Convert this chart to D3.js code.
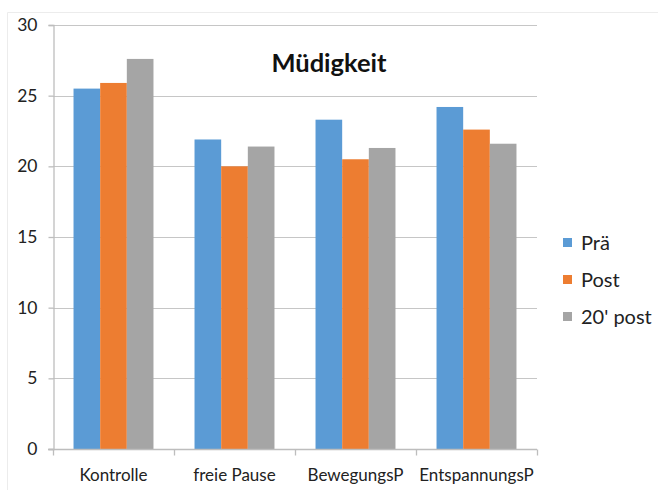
<!DOCTYPE html>
<html>
<head>
<meta charset="utf-8">
<script src="https://cdn.jsdelivr.net/npm/d3@7"></script>
<style>
  html, body { margin: 0; padding: 0; background: #fff; }
  svg { display: block; font-family: Lato, "Open Sans", sans-serif; }
</style>
</head>
<body>
<svg id="chart" width="658" height="490"></svg>
<script>
// Müdigkeit scores per break condition and measurement time
const categories = ["Kontrolle", "freie Pause", "BewegungsP", "EntspannungsP"];
const seriesNames = ["Prä", "Post", "20' post"];
const praValues = [25.5, 21.9, 23.3, 24.2];
const postValues = [25.9, 20.0, 20.5, 22.6];
const post20Values = [27.6, 21.4, 21.3, 21.6];
const yTicks = [0, 5, 10, 15, 20, 25, 30];
const colors = ["#5b9bd5", "#ed7d31", "#a5a5a5"];

const seriesValues = [praValues, postValues, post20Values];

const svg = d3.select("#chart");
const plot = { left: 53, right: 537, top: 25, bottom: 449 };

// faint outer frame
svg.append("path")
  .attr("d", "M7.5,490 V12.5 H658")
  .attr("fill", "none")
  .attr("stroke", "#ececec")
  .attr("stroke-width", 1);

const x = d3.scaleBand().domain(categories).range([plot.left, plot.right]);
const xInner = d3.scaleBand().domain(seriesNames).range([0, x.bandwidth()]).paddingOuter(0.77).paddingInner(0);
const y = d3.scaleLinear().domain([0, 30]).range([plot.bottom, plot.top]);

// horizontal gridlines
svg.append("g")
  .selectAll("line")
  .data(yTicks.filter(d => d > 0))
  .join("line")
  .attr("x1", plot.left).attr("x2", plot.right)
  .attr("y1", d => Math.round(y(d)) + 0.5).attr("y2", d => Math.round(y(d)) + 0.5)
  .attr("stroke", "#c6c6c6").attr("stroke-width", 1.2);

// bars
const groups = svg.append("g")
  .selectAll("g")
  .data(categories)
  .join("g")
  .attr("transform", d => `translate(${x(d)},0)`);

groups.selectAll("rect")
  .data((c, i) => seriesNames.map((s, j) => ({ s, j, v: seriesValues[j][i] })))
  .join("rect")
  .attr("x", d => xInner(d.s))
  .attr("width", xInner.bandwidth())
  .attr("y", d => y(d.v))
  .attr("height", d => y(0) - y(d.v))
  .attr("fill", d => colors[d.j]);

// y axis
const yAxis = svg.append("g")
  .attr("transform", `translate(${plot.left + 0.5},0)`)
  .call(d3.axisLeft(y).tickValues(yTicks).tickSize(5).tickPadding(11));
yAxis.select(".domain").attr("stroke", "#bdbdbd").attr("stroke-width", 1.3);
yAxis.selectAll(".tick line").attr("stroke", "#bdbdbd").attr("stroke-width", 1.3);
yAxis.selectAll(".tick text")
  .attr("font-size", 17.5).attr("fill", "#222").attr("font-family", "Lato, 'Open Sans', sans-serif");

// x axis line with boundary ticks between categories
const xAxisG = svg.append("g").attr("transform", `translate(0,${plot.bottom + 0.5})`);
xAxisG.append("line")
  .attr("x1", plot.left - 5).attr("x2", plot.right)
  .attr("stroke", "#bdbdbd").attr("stroke-width", 1.3);
const boundaries = categories.map(c => x(c)).concat([x(categories[categories.length - 1]) + x.bandwidth()]);
xAxisG.selectAll("line.bt")
  .data(boundaries)
  .join("line")
  .attr("class", "bt")
  .attr("x1", d => d + 0.5).attr("x2", d => d + 0.5)
  .attr("y1", 0).attr("y2", 6)
  .attr("stroke", "#bdbdbd").attr("stroke-width", 1.3);
xAxisG.selectAll("text")
  .data(categories)
  .join("text")
  .attr("x", d => x(d) + x.bandwidth() / 2)
  .attr("y", 31)
  .attr("text-anchor", "middle")
  .attr("font-size", 17)
  .attr("fill", "#222")
  .text(d => d);

// title
svg.append("text")
  .attr("x", 329).attr("y", 72)
  .attr("text-anchor", "middle")
  .attr("font-size", 25.5).attr("font-weight", "bold")
  .attr("fill", "#111")
  .text("Müdigkeit");

// legend
const legend = svg.append("g")
  .selectAll("g")
  .data(seriesNames)
  .join("g")
  .attr("transform", (d, i) => `translate(563,${243 + i * 37})`);
legend.append("rect")
  .attr("x", 0).attr("y", -5).attr("width", 9).attr("height", 9)
  .attr("fill", (d, i) => colors[i]);
legend.append("text")
  .attr("x", 18).attr("y", 0)
  .attr("dy", "0.35em")
  .attr("font-size", 20).attr("fill", "#222")
  .text(d => d);
</script>
</body>
</html>
